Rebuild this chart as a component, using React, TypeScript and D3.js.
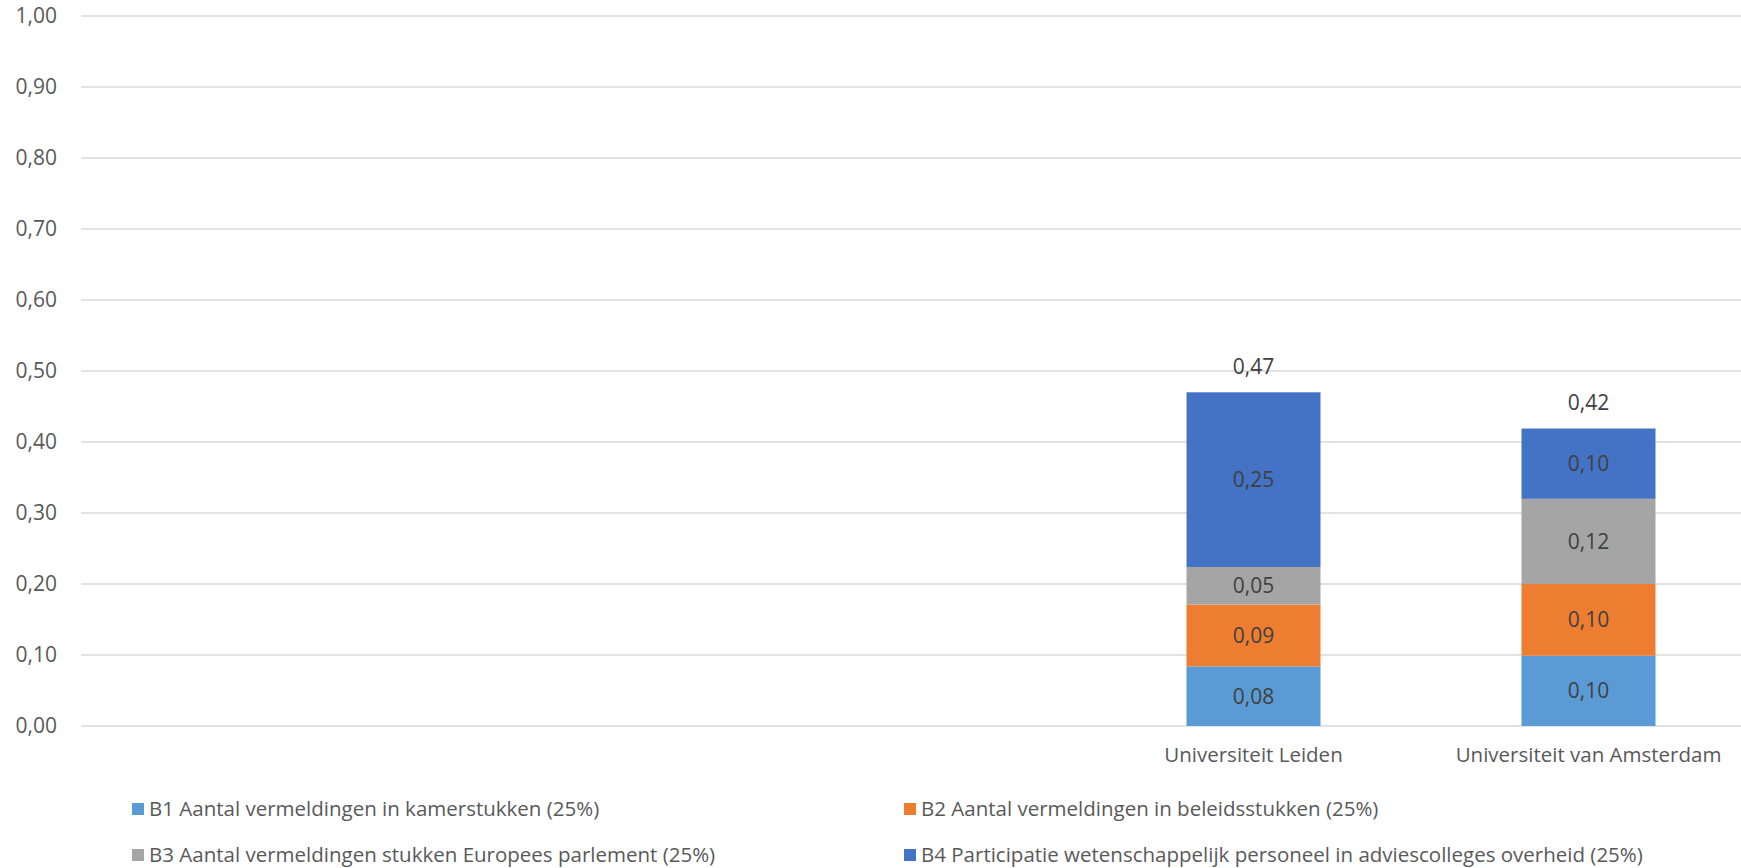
import { useEffect, useRef } from "react";
import * as d3 from "d3";

const categories = ["Universiteit Leiden", "Universiteit van Amsterdam"];
const seriesNames = [
  "B1 Aantal vermeldingen in kamerstukken (25%)",
  "B2 Aantal vermeldingen in beleidsstukken (25%)",
  "B3 Aantal vermeldingen stukken Europees parlement (25%)",
  "B4 Participatie wetenschappelijk personeel in adviescolleges overheid (25%)",
];
const b1 = [0.084, 0.099];
const b2 = [0.087, 0.101];
const b3 = [0.053, 0.12];
const b4 = [0.246, 0.099];
const yTicks = [0, 0.1, 0.2, 0.3, 0.4, 0.5, 0.6, 0.7, 0.8, 0.9, 1.0];
const colors = ["#5B9BD5", "#ED7D31", "#A5A5A5", "#4472C4"];

const W = 1741;
const H = 868;
const FONT = "'Open Sans', sans-serif";

const fmt = (v: number) => v.toFixed(2).replace(".", ",");

export default function App() {
  const svgRef = useRef<SVGSVGElement>(null);

  useEffect(() => {
    if (!svgRef.current) return;
    const svg = d3.select(svgRef.current);
    svg.selectAll("*").remove();

    const plotLeft = 81;
    const plotRight = 1741;
    const y = d3.scaleLinear().domain([0, 1]).range([726, 16]);

    const x = d3.scaleBand()
      .domain(categories)
      .range([1086, 1756])
      .paddingInner(0.6)
      .paddingOuter(0.3);

    // Gridlines
    svg.append("g")
      .selectAll("line")
      .data(yTicks)
      .join("line")
      .attr("x1", plotLeft)
      .attr("x2", plotRight)
      .attr("y1", d => y(d))
      .attr("y2", d => y(d))
      .attr("stroke", "#d9d9d9")
      .attr("stroke-width", 1.5);

    // Y tick labels
    svg.append("g")
      .selectAll("text")
      .data(yTicks)
      .join("text")
      .attr("x", 57)
      .attr("y", d => y(d))
      .attr("dy", "0.35em")
      .attr("text-anchor", "end")
      .attr("font-family", FONT)
      .attr("font-size", 21)
      .attr("fill", "#595959")
      .text(d => fmt(d));

    // Stacked data
    const rows = categories.map((c, i) => ({ cat: c, b1: b1[i], b2: b2[i], b3: b3[i], b4: b4[i] }));
    const keys = ["b1", "b2", "b3", "b4"];
    const stacked = d3.stack<any>().keys(keys)(rows);

    stacked.forEach((layer, li) => {
      const g = svg.append("g");
      g.selectAll("rect")
        .data(layer)
        .join("rect")
        .attr("x", d => x(d.data.cat)!)
        .attr("width", x.bandwidth())
        .attr("y", d => y(d[1]))
        .attr("height", d => y(d[0]) - y(d[1]))
        .attr("fill", colors[li]);

      g.selectAll("text")
        .data(layer)
        .join("text")
        .attr("x", d => x(d.data.cat)! + x.bandwidth() / 2)
        .attr("y", d => (y(d[0]) + y(d[1])) / 2)
        .attr("dy", "0.35em")
        .attr("text-anchor", "middle")
        .attr("font-family", FONT)
        .attr("font-size", 21)
        .attr("fill", "#404040")
        .text(d => fmt(d[1] - d[0]));
    });

    // Totals
    svg.append("g")
      .selectAll("text")
      .data(rows)
      .join("text")
      .attr("x", d => x(d.cat)! + x.bandwidth() / 2)
      .attr("y", d => y(d.b1 + d.b2 + d.b3 + d.b4) - 26)
      .attr("text-anchor", "middle")
      .attr("dy", "0.35em")
      .attr("font-family", FONT)
      .attr("font-size", 21)
      .attr("fill", "#404040")
      .text(d => fmt(d.b1 + d.b2 + d.b3 + d.b4));

    // Category labels
    svg.append("g")
      .selectAll("text")
      .data(categories)
      .join("text")
      .attr("x", d => x(d)! + x.bandwidth() / 2)
      .attr("y", 755)
      .attr("dy", "0.35em")
      .attr("text-anchor", "middle")
      .attr("font-family", FONT)
      .attr("font-size", 20.5)
      .attr("fill", "#595959")
      .text(d => d);

    // Legend
    const legendPos = [
      { x: 132, y: 809 },
      { x: 904, y: 809 },
      { x: 132, y: 855 },
      { x: 904, y: 855 },
    ];
    const legend = svg.append("g");
    seriesNames.forEach((name, i) => {
      const p = legendPos[i];
      legend.append("rect")
        .attr("x", p.x)
        .attr("y", p.y - 6)
        .attr("width", 12)
        .attr("height", 12)
        .attr("fill", colors[i]);
      legend.append("text")
        .attr("x", p.x + 17)
        .attr("y", p.y)
        .attr("dy", "0.35em")
        .attr("font-family", FONT)
        .attr("font-size", 20.5)
        .attr("fill", "#595959")
        .text(name);
    });
  }, []);

  return (
    <svg
      ref={svgRef}
      width={W}
      height={H}
      style={{ position: "absolute", left: 0, top: 0, display: "block", background: "#fff" }}
    />
  );
}
